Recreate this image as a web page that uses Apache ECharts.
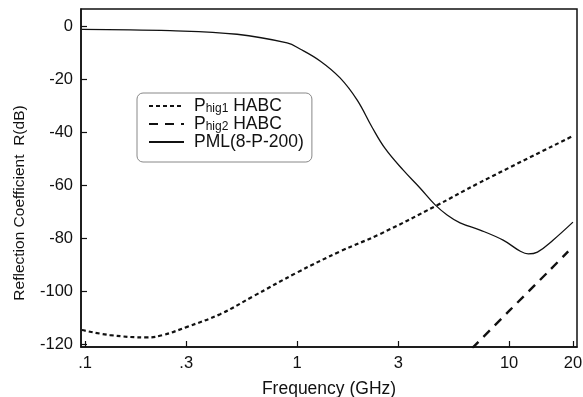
<!DOCTYPE html>
<html>
<head>
<meta charset="utf-8">
<script src="https://cdn.jsdelivr.net/npm/echarts@6/dist/echarts.min.js"></script>
<style>
  html, body { margin: 0; padding: 0; background: #fff; }
  #chart { width: 583px; height: 397px; }
</style>
</head>
<body>
<div id="chart"></div>
<script>
// frequency in GHz, reflection in dB
var tickFreqs = [0.1, 0.3, 1, 3, 10, 20];
var tickLabels = ['.1', '.3', '1', '3', '10', '20'];

var pmlFreq = [0.0967, 0.252, 0.521, 0.897, 1.033, 1.284, 1.595, 1.918, 2.258, 2.6, 3.16, 3.8, 4.48, 5.1, 5.87, 7.3, 9.37, 11.3, 12.3, 13.6, 16.1, 20];
var pmlDb = [-1.25, -1.77, -3.13, -6.42, -8.68, -13.2, -19.6, -27.9, -38.2, -46.2, -54.3, -61.1, -67.5, -71.3, -74.3, -77.0, -80.8, -85.0, -86.0, -85.3, -80.8, -74.0];

var hig1Freq = [0.0967, 0.131, 0.196, 0.233, 0.303, 0.434, 0.62, 1.0, 1.6, 2.46, 4.48, 7.3, 20];
var hig1Db = [-114.7, -116.6, -117.5, -116.6, -113.5, -108.7, -102, -93, -85, -78.5, -68, -59, -41.5];

var hig2Freq = [6.7, 10, 15.6, 19];
var hig2Db = [-121.5, -107.5, -92, -85];

function pairs(xs, ys) {
  var out = [];
  for (var i = 0; i < xs.length; i++) out.push([xs[i], ys[i]]);
  return out;
}

var chart = echarts.init(document.getElementById('chart'), null, {renderer: 'canvas'});
var font = 'Liberation Sans, Arial, Helvetica, sans-serif';

var option = {
  animation: false,
  backgroundColor: '#fff',
  grid: {
    left: 81, top: 9, right: 6, bottom: 50,
    outerBoundsMode: 'none', containLabel: false,
    show: true, borderColor: '#111', borderWidth: 1.5
  },
  legend: {
    orient: 'vertical',
    left: 137,
    top: 93,
    padding: [4, 8, 11, 11],
    itemGap: 0,
    itemWidth: 35,
    itemHeight: 14,
    borderColor: '#888',
    borderWidth: 1,
    borderRadius: 6,
    itemStyle: {color: 'rgba(0,0,0,0)', borderWidth: 0, opacity: 0},
    data: ['Phig1 HABC', 'Phig2 HABC', 'PML(8-P-200)'],
    formatter: function (name) {
      if (name === 'Phig1 HABC') return '{a|P}{s|hig1}{a| HABC}';
      if (name === 'Phig2 HABC') return '{a|P}{s|hig2}{a| HABC}';
      return '{a|' + name + '}';
    },
    textStyle: {
      color: '#111',
      fontFamily: font,
      padding: [0, 0, 0, 5],
      rich: {
        a: {fontSize: 17.5, fontFamily: font, color: '#111', lineHeight: 16.7},
        s: {fontSize: 12, fontFamily: font, color: '#111', lineHeight: 6, verticalAlign: 'bottom'}
      }
    }
  },
  xAxis: {
    type: 'log',
    logBase: 10,
    min: 0.0957,
    max: 20.9,
    name: 'Frequency (GHz)',
    nameLocation: 'middle',
    nameGap: 33,
    nameTextStyle: {fontFamily: font, fontSize: 17.5, color: '#111'},
    axisLine: {onZero: false, lineStyle: {color: '#111', width: 1.5}},
    axisTick: {show: true, inside: true, length: 6, lineStyle: {color: '#111', width: 1.2}, customValues: tickFreqs},
    axisLabel: {
      customValues: tickFreqs,
      fontFamily: font, fontSize: 16.5, color: '#111', margin: 8,
      formatter: function (v) {
        for (var i = 0; i < tickFreqs.length; i++) {
          if (Math.abs(tickFreqs[i] - v) < 1e-6) return tickLabels[i];
        }
        return '';
      }
    },
    splitLine: {show: false},
    minorTick: {show: false}
  },
  yAxis: {
    type: 'value',
    min: -121.1,
    max: 6.4,
    splitNumber: 6,
    name: 'Reflection Coefficient  R(dB)',
    nameLocation: 'middle',
    nameGap: 53,
    nameTextStyle: {fontFamily: font, fontSize: 15.5, color: '#111', padding: [0, 50, 0, 0]},
    axisLine: {show: true, onZero: false, lineStyle: {color: '#111', width: 1.5}},
    axisTick: {show: true, inside: true, length: 6, lineStyle: {color: '#111', width: 1.2}},
    axisLabel: {
      showMinLabel: false,
      showMaxLabel: false,
      fontFamily: font, fontSize: 16.5, color: '#111', margin: 8
    },
    splitLine: {show: false}
  },
  series: [
    {
      name: 'Phig1 HABC',
      type: 'line',
      data: pairs(hig1Freq, hig1Db),
      smooth: 0.4,
      symbol: 'none',
      clip: true,
      lineStyle: {color: '#111', width: 2.2, type: [4, 3]}
    },
    {
      name: 'Phig2 HABC',
      type: 'line',
      data: pairs(hig2Freq, hig2Db),
      smooth: 0.3,
      symbol: 'none',
      clip: true,
      lineStyle: {color: '#111', width: 2.4, type: [9, 7]}
    },
    {
      name: 'PML(8-P-200)',
      type: 'line',
      data: pairs(pmlFreq, pmlDb),
      smooth: 0.4,
      symbol: 'none',
      clip: true,
      lineStyle: {color: '#111', width: 1.3, type: 'solid'}
    }
  ]
};

chart.setOption(option);
</script>
</body>
</html>
